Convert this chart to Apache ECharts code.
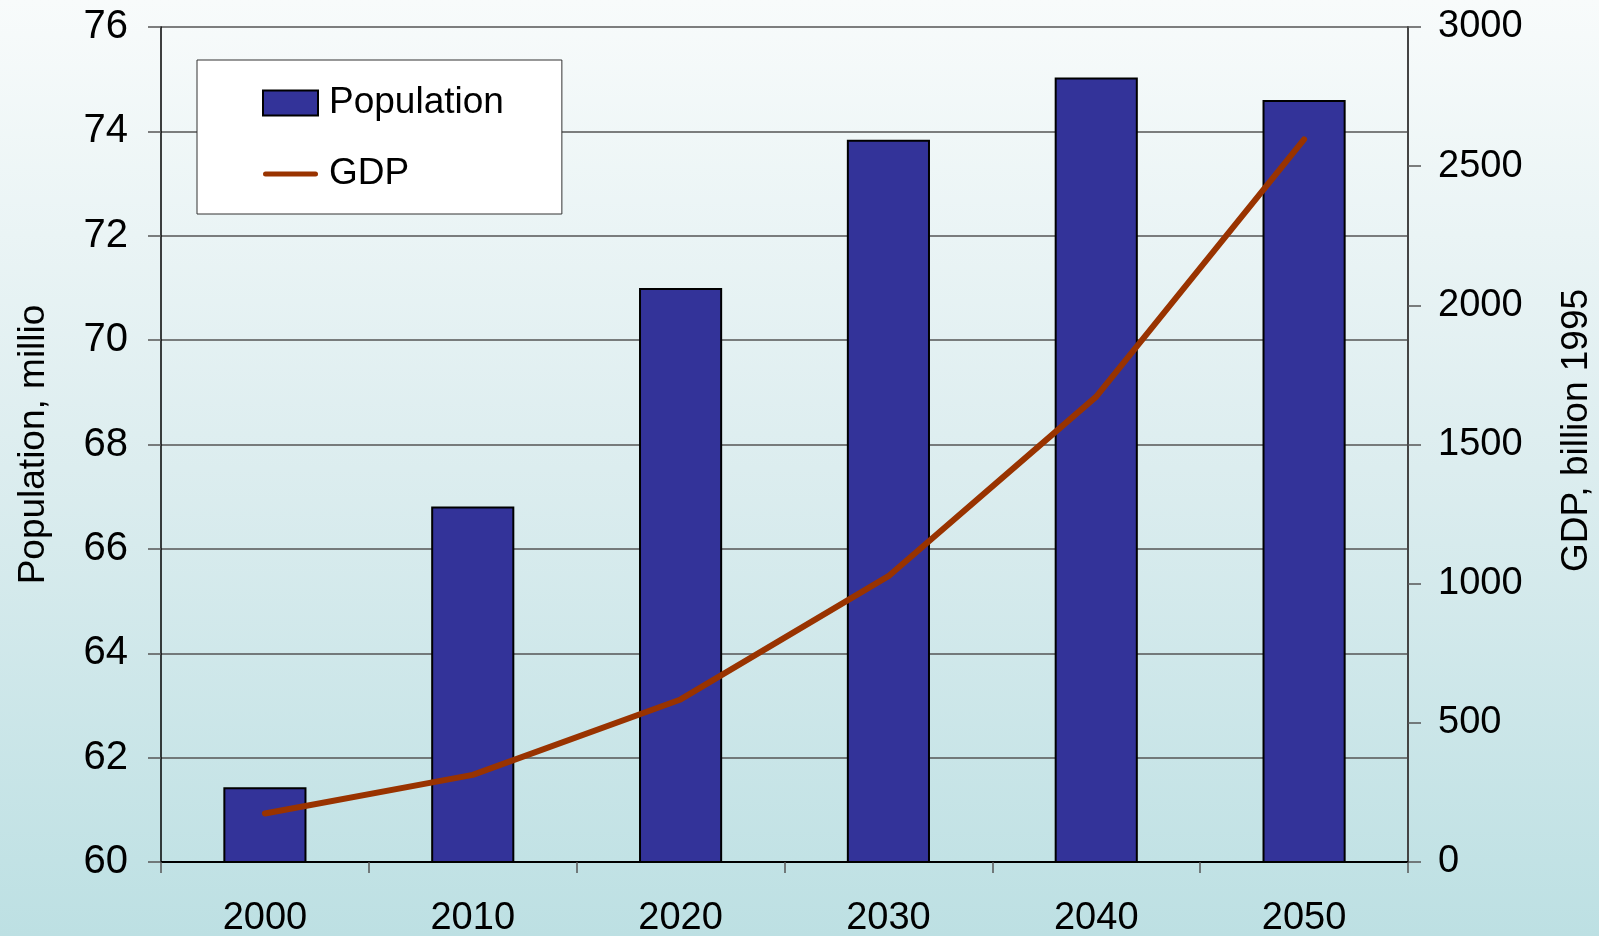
<!DOCTYPE html>
<html>
<head>
<meta charset="utf-8">
<script src="https://cdn.jsdelivr.net/npm/echarts@6/dist/echarts.min.js"></script>
<style>
  html, body { margin: 0; padding: 0; }
  #chart { width: 1599px; height: 936px; }
</style>
</head>
<body>
<div id="chart"></div>
<script>
// Decades shown on the category axis
const years = ['2000', '2010', '2020', '2030', '2040', '2050'];
// Population, millions (bars, left axis)
const population = [61.43, 66.81, 71.0, 73.84, 75.03, 74.6];
// GDP, billion 1995 (line, right axis)
const gdp = [174, 313, 584, 1027, 1672, 2596];

const FONT = '"Liberation Sans", Arial, sans-serif';
const GDP_COLOR = '#993300';
const POP_COLOR = '#333399';

// Thick, round-ended stroke used as the GDP legend key (55 x 25 box, bar centred)
const LINE_KEY = 'path://M0,0 M2.5,10 L52.5,10 A2.5,2.5 0 0 1 52.5,15 L2.5,15 A2.5,2.5 0 0 1 2.5,10 Z M55,25';

const chart = echarts.init(document.getElementById('chart'), null, { renderer: 'canvas' });

chart.setOption({
  backgroundColor: {
    type: 'linear', x: 0, y: 0, x2: 0, y2: 1,
    colorStops: [
      { offset: 0, color: '#f8fbfb' },
      { offset: 0.5, color: '#dcedef' },
      { offset: 1, color: '#bde0e3' }
    ]
  },
  textStyle: { fontFamily: FONT, color: '#000' },
  animation: false,
  grid: { left: 161, right: 191, top: 27, bottom: 74, containLabel: false, outerBoundsMode: 'none' },
  legend: {
    orient: 'vertical',
    left: 197,
    top: 60,
    padding: [23, 58, 20, 65],
    backgroundColor: '#ffffff',
    borderColor: '#333333',
    borderWidth: 1,
    itemWidth: 55,
    itemHeight: 25,
    itemGap: 31,
    textStyle: { fontSize: 37, color: '#000', fontFamily: FONT, lineHeight: 40, padding: [0, 0, 0, 6] },
    data: [
      { name: 'Population', icon: 'rect', itemStyle: { color: POP_COLOR, borderColor: '#000', borderWidth: 2 } },
      { name: 'GDP', icon: LINE_KEY, itemStyle: { color: GDP_COLOR, borderWidth: 0 }, lineStyle: { width: 0 } }
    ]
  },
  xAxis: {
    type: 'category',
    data: years,
    boundaryGap: true,
    axisLine: { lineStyle: { color: '#000', width: 2 } },
    axisTick: { show: true, length: 11, lineStyle: { color: '#555', width: 1.5 } },
    axisLabel: { fontSize: 38, color: '#000', margin: 38, fontFamily: FONT }
  },
  yAxis: [
    {
      type: 'value',
      min: 60, max: 76, interval: 2,
      name: 'Population, millio',
      nameLocation: 'middle',
      nameRotate: 90,
      nameGap: 109,
      nameTextStyle: { fontSize: 37, color: '#000', fontFamily: FONT },
      axisLine: { show: true, lineStyle: { color: '#000', width: 1.5 } },
      axisTick: { show: true, length: 13, lineStyle: { color: '#555', width: 1.5 } },
      axisLabel: { fontSize: 40, color: '#000', margin: 33, fontFamily: FONT },
      splitLine: { show: true, lineStyle: { color: '#555', width: 1.5 } }
    },
    {
      type: 'value',
      position: 'right',
      min: 0, max: 3000, interval: 500,
      name: 'GDP, billion 1995',
      nameLocation: 'middle',
      nameRotate: 90,
      nameGap: 150,
      nameTextStyle: { fontSize: 37, color: '#000', fontFamily: FONT, padding: [0, 0, 0, 28] },
      axisLine: { show: true, lineStyle: { color: '#444', width: 2 } },
      axisTick: { show: true, length: 13, lineStyle: { color: '#555', width: 1.5 } },
      axisLabel: { fontSize: 38, color: '#000', margin: 30, fontFamily: FONT, formatter: v => String(v) },
      splitLine: { show: false }
    }
  ],
  series: [
    {
      name: 'Population',
      type: 'bar',
      yAxisIndex: 0,
      data: population,
      barWidth: '40%',
      itemStyle: { color: POP_COLOR, borderColor: '#000', borderWidth: 2 }
    },
    {
      name: 'GDP',
      type: 'line',
      yAxisIndex: 1,
      data: gdp,
      symbol: 'none',
      lineStyle: { color: GDP_COLOR, width: 6, cap: 'round', join: 'round' },
      itemStyle: { color: GDP_COLOR }
    }
  ]
});
</script>
</body>
</html>
